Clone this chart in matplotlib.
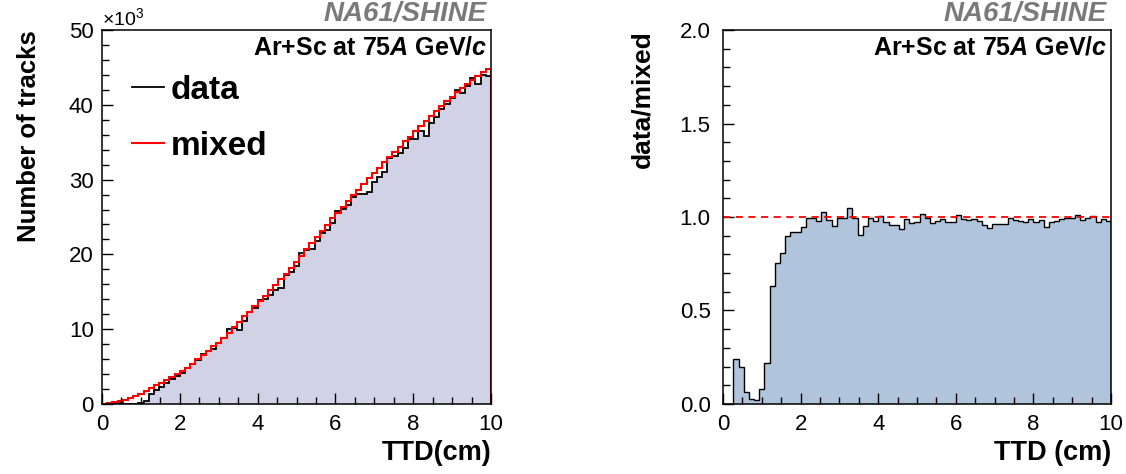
import numpy as np
import matplotlib.pyplot as plt
from matplotlib.ticker import MultipleLocator
from matplotlib.lines import Line2D

plt.rcParams['font.family'] = ['Liberation Sans', 'DejaVu Sans']
plt.rcParams['mathtext.fontset'] = 'custom'
plt.rcParams['mathtext.rm'] = 'Liberation Sans'
plt.rcParams['mathtext.it'] = 'Liberation Sans:italic:bold'
plt.rcParams['mathtext.bf'] = 'Liberation Sans:bold'

# Гистограммы TTD: 75 бинов от 0 до 10 см, значения в тысячах треков
ttd_min, ttd_max, n_bins = 0.0, 10.0, 75

mixed = [0.05, 0.15, 0.28, 0.42, 0.58, 0.78, 1.02, 1.30, 1.70, 2.10,
         2.50, 2.85, 3.20, 3.60, 4.00, 4.40, 4.85, 5.35, 5.95, 6.55,
         7.15, 7.70, 8.20, 8.85, 9.50, 10.25, 11.00, 11.70, 12.35, 13.05,
         13.75, 14.45, 15.20, 15.90, 16.65, 17.40, 18.20, 19.00, 19.85, 20.70,
         21.50, 22.30, 23.10, 23.90, 24.80, 25.60, 26.35, 27.10, 27.90, 28.65,
         29.40, 30.15, 30.90, 31.60, 32.30, 33.00, 33.70, 34.40, 35.10, 35.75,
         36.45, 37.15, 37.80, 38.50, 39.20, 39.85, 40.45, 41.10, 41.65, 42.20,
         42.80, 43.35, 43.90, 44.40, 44.85]

data = [0.0, 0.0, 0.067, 0.084, 0.036, 0.021, 0.020, 0.104, 0.374, 1.32,
        1.88, 2.30, 2.87, 3.32, 3.68, 4.17, 4.83, 5.31, 5.83, 6.73,
        7.04, 7.33, 8.17, 8.81, 9.96, 10.18, 9.94, 11.14, 12.29, 12.79,
        13.85, 14.09, 14.58, 15.25, 15.55, 17.24, 17.65, 18.49, 20.13, 20.56,
        20.77, 21.85, 22.89, 23.30, 24.18, 25.83, 26.03, 26.67, 27.65, 28.05,
        28.08, 28.31, 29.70, 30.37, 31.04, 32.84, 33.16, 33.61, 34.22, 35.43,
        35.47, 36.48, 35.83, 37.54, 38.42, 39.49, 40.17, 40.90, 42.03, 41.53,
        42.50, 43.57, 42.80, 44.00, 43.82]

edges = np.linspace(ttd_min, ttd_max, n_bins + 1)
mixed = np.array(mixed)
data = np.array(data)
ratio = np.divide(data, mixed, out=np.zeros_like(data), where=mixed > 0)

fig = plt.figure(figsize=(11.26, 4.74), dpi=100)
ax1 = fig.add_axes([0.0906, 0.1477, 0.3455, 0.789])
ax2 = fig.add_axes([0.6421, 0.1477, 0.3446, 0.789])


def style_axes(ax, ypad):
    for sp in ax.spines.values():
        sp.set_linewidth(1.1)
    ax.tick_params(which='both', direction='in', top=False, right=False,
                   labelsize=16, width=1.0)
    ax.tick_params(which='major', length=8)
    ax.tick_params(axis='x', which='major', pad=7)
    ax.tick_params(axis='y', which='major', pad=ypad)
    ax.tick_params(which='minor', length=5)
    ax.set_xlim(ttd_min, ttd_max)
    ax.xaxis.set_major_locator(MultipleLocator(2))
    ax.xaxis.set_minor_locator(MultipleLocator(0.5))
    ax.text(0.99, 1.008, 'NA61/SHINE', transform=ax.transAxes, ha='right',
            va='bottom', fontsize=20, fontweight='bold', style='italic',
            color='#7a7a7a')
    ax.text(0.99, 0.985, r'Ar+Sc at 75$\mathit{A}$ GeV/$\mathit{c}$',
            transform=ax.transAxes, ha='right', va='top', fontsize=18,
            fontweight='bold')


# Левая панель: распределения
ax1.stairs(data, edges, fill=True, color='#d1d2e6', lw=0)
ax1.stairs(data, edges, color='black', lw=1.3)
ax1.stairs(mixed, edges, color='red', lw=1.5)
style_axes(ax1, 6)
ax1.set_ylim(0, 50)
ax1.yaxis.set_major_locator(MultipleLocator(10))
ax1.yaxis.set_minor_locator(MultipleLocator(2))
ax1.text(0.0, 1.003, r'$\times$10$^{3}$', transform=ax1.transAxes,
         ha='left', va='bottom', fontsize=14)
ax1.set_xlabel('TTD(cm)', fontsize=19.5, fontweight='bold', loc='right')
ax1.set_ylabel('Number of tracks', fontsize=18.5, fontweight='bold',
               loc='top', labelpad=20)
handles = [Line2D([], [], color='black', lw=1.3),
           Line2D([], [], color='red', lw=1.5)]
ax1.legend(handles, ['data', 'mixed'], loc='upper left',
           bbox_to_anchor=(0.0, 0.96), frameon=False, handlelength=0.95,
           handletextpad=0.2, labelspacing=0.75,
           prop={'weight': 'bold', 'size': 24})

# Правая панель: отношение data/mixed
ax2.stairs(ratio, edges, fill=True, color='#b0c4dc', lw=0)
ax2.stairs(ratio, edges, color='black', lw=1.0)
ax2.axhline(1.0, color='red', ls=(0, (4, 3)), lw=1.3)
style_axes(ax2, 9)
ax2.set_ylim(0, 2)
ax2.yaxis.set_major_locator(MultipleLocator(0.5))
ax2.yaxis.set_minor_locator(MultipleLocator(0.1))
ax2.yaxis.set_major_formatter(lambda v, p: f'{v:.1f}')
ax2.set_xlabel('TTD (cm)', fontsize=19.5, fontweight='bold', loc='right')
ax2.set_ylabel('data/mixed', fontsize=19, fontweight='bold', loc='top',
               labelpad=18)

fig.savefig('out.png', dpi=100)
